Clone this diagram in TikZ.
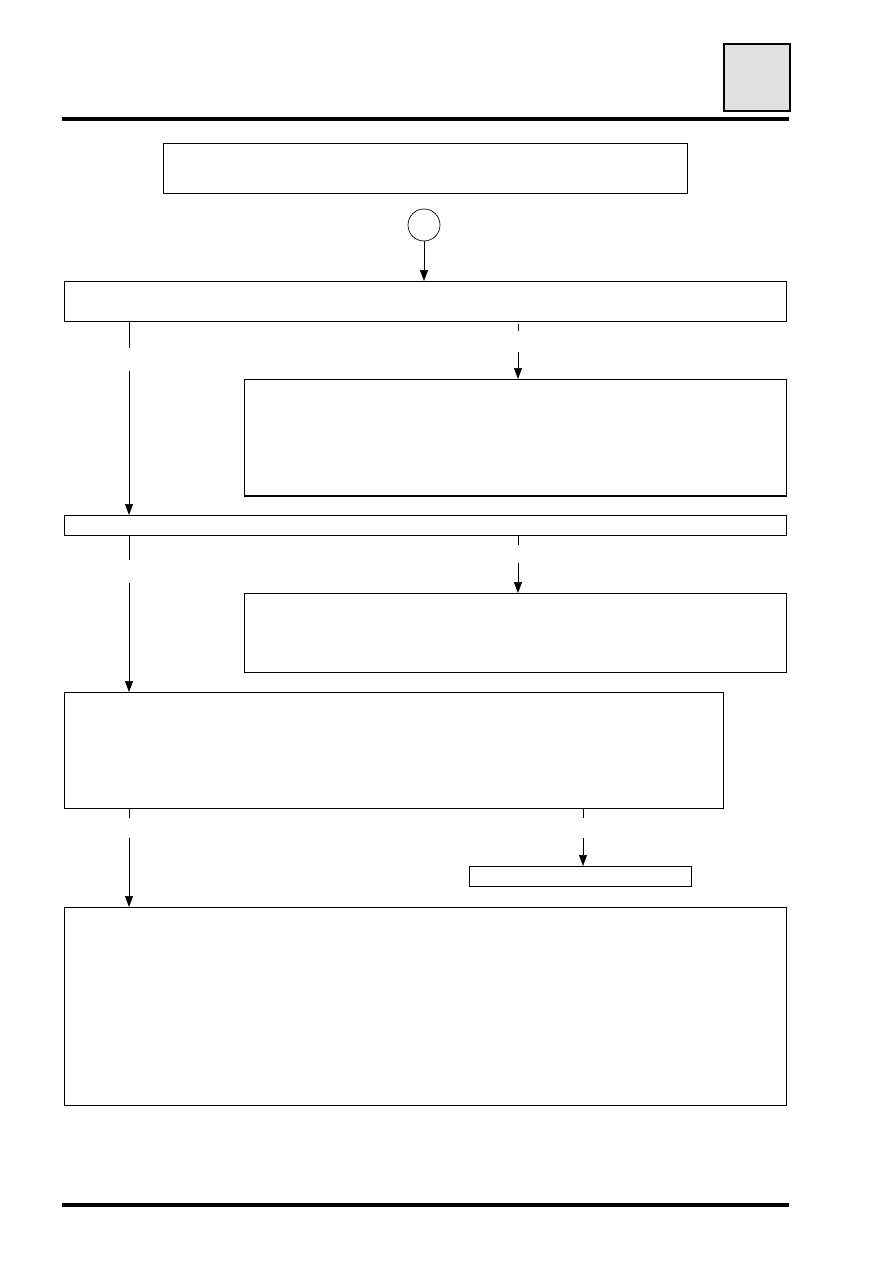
\documentclass[tikz,border=0pt]{standalone}
\usetikzlibrary{arrows.meta}
\definecolor{tabgray}{RGB}{224,224,224}
\begin{document}
\begin{tikzpicture}[x=1pt,y=-1pt,
    box/.style={draw,line width=0.9pt,inner sep=0pt,anchor=north west},
    flow/.style={line width=0.7pt,-{Triangle[length=11pt,width=8pt]}},
    stub/.style={line width=0.7pt}]

    \useasboundingbox (0,0) rectangle (893,1263); % 页面大小

    % 页眉和页脚
    \node[box,line width=1.6pt,fill=tabgray,minimum width=66pt,minimum height=67pt] (tab) at (723,43) {}; % 右上角的灰色方框
    \draw[line width=4pt] (62,119) -- (789,119); % 上横线
    \draw[line width=4pt] (62,1205) -- (789,1205); % 下横线

    % 标题框和起点
    \node[box,minimum width=524pt,minimum height=50pt] (title) at (163,143) {};
    \node[draw,circle,line width=0.7pt,minimum size=32pt,inner sep=0pt] (start) at (424,225) {};

    % 各个步骤的方框
    \node[box,minimum width=722pt,minimum height=40pt] (check) at (64,281) {};
    \node[box,minimum width=542pt,minimum height=116pt] (fixa) at (244,379) {};
    \node[box,minimum width=722pt,minimum height=20pt] (test) at (64,515) {};
    \node[box,minimum width=542pt,minimum height=79pt] (fixb) at (244,593) {};
    \node[box,minimum width=659pt,minimum height=116pt] (measure) at (64,692) {};
    \node[box,minimum width=222pt,minimum height=20pt] (done) at (469,866) {};
    \node[box,minimum width=722pt,minimum height=198pt] (last) at (64,907) {};
    \draw[line width=1.6pt] (fixa.south west) -- (fixa.south east); % 下边加粗

    % 断开处的坐标
    \coordinate (la1) at (129,348); \coordinate (lb1) at (129,371);
    \coordinate (ra1) at (518,331); \coordinate (rb1) at (518,352);
    \coordinate (la2) at (129,560); \coordinate (lb2) at (129,583);
    \coordinate (ra2) at (518,545); \coordinate (rb2) at (518,563);
    \coordinate (la3) at (129,818); \coordinate (lb3) at (129,838);
    \coordinate (ra3) at (583,818); \coordinate (rb3) at (583,838);

    % 连线
    \draw[flow] (start) -- (check.north -| start);
    \draw[stub] (check.south -| la1) -- (la1);
    \draw[flow] (lb1) -- (test.north -| lb1);
    \draw[stub] ([yshift=-2pt]check.south -| ra1) -- (ra1);
    \draw[flow] (rb1) -- (fixa.north -| rb1);
    \draw[stub] (test.south -| la2) -- (la2);
    \draw[flow] (lb2) -- (measure.north -| lb2);
    \draw[stub] (test.south -| ra2) -- (ra2);
    \draw[flow] (rb2) -- (fixb.north -| rb2);
    \draw[stub] (measure.south -| la3) -- (la3);
    \draw[flow] (lb3) -- (last.north -| lb3);
    \draw[stub] (measure.south -| ra3) -- (ra3);
    \draw[flow] (rb3) -- (done.north -| rb3);

\end{tikzpicture}
\end{document}
